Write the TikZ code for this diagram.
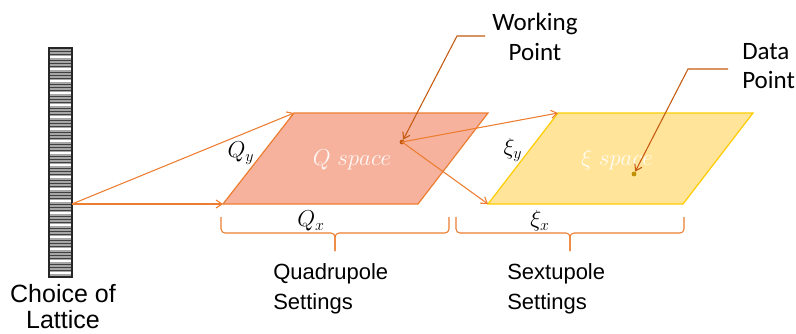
\documentclass[tikz,border=0pt]{standalone}
\usepackage{fontspec}
\setmainfont{Liberation Sans}
\newfontfamily\calib{Carlito}
\usetikzlibrary{arrows.meta}
\definecolor{org}{RGB}{237,125,49}
\definecolor{brn}{RGB}{197,90,17}
\definecolor{qfill}{RGB}{246,178,156}
\definecolor{xfill}{RGB}{255,228,153}
\definecolor{xline}{RGB}{255,204,0}
\definecolor{dpt}{RGB}{191,144,0}
\begin{document}
\begin{tikzpicture}[x=0.75pt,y=-0.75pt,
  conn/.style={org, line width=0.8pt, -{Straight Barb[length=4.5pt,width=6pt]}},
  leader/.style={brn, line width=0.8pt, -{Straight Barb[length=4.5pt,width=6pt]}},
  bracestyle/.style={org, line width=0.8pt, rounded corners=3pt},
  lbl/.style={font=\fontsize{16.5}{20}\selectfont, inner sep=0pt},
  clbl/.style={font=\calib\fontsize{18.75}{22}\selectfont, align=left, inner sep=0pt},
  mlbl/.style={font=\fontsize{18.5}{20}\selectfont, inner sep=0pt},
  spacelbl/.style={text=white, text opacity=0.9, font=\fontsize{18}{20}\selectfont, inner sep=0pt},
  dot/.style={circle, inner sep=0pt, minimum size=3.6pt}]
\useasboundingbox (0,0) rectangle (796,333);

% lattice
\fill[gray!50!black] (49,48) rectangle (72,277);
\foreach \y in {50,53,...,276} \draw[gray!70, line width=0.9pt] (50,\y) -- (71,\y);
\foreach \y in {57,69,...,276} \draw[white, line width=0.8pt] (50,\y) -- (71,\y);
\draw[gray!30!black, line width=1pt] (49,48) rectangle (72,277);
\coordinate (lat) at (72,204);
\node[font=\fontsize{18.75}{20}\selectfont, inner sep=0pt, anchor=base] (ch1) at (63,302) {Choice of};
\node[font=\fontsize{18.75}{20}\selectfont, inner sep=0pt, anchor=base] (ch2) at (63,328) {Lattice};

% Q space
\coordinate (q1) at (223,204);
\coordinate (q2) at (418,204);
\coordinate (q3) at (488,113);
\coordinate (q4) at (294,113);
\draw[org, fill=qfill, line width=0.9pt] (q1) -- (q2) -- (q3) -- (q4) -- cycle;
\node[spacelbl] (qsp) at (352,160) {$Q\ space$};

% xi space
\coordinate (x1) at (488,204);
\coordinate (x2) at (683,204);
\coordinate (x3) at (753,113);
\coordinate (x4) at (558,113);
\draw[xline, fill=xfill, line width=0.9pt] (x1) -- (x2) -- (x3) -- (x4) -- cycle;
\node[spacelbl] (xsp) at (617,160) {$\xi\ space$};

% axis labels
\node[mlbl] (qy) at (241,153) {$Q_y$};
\node[mlbl] (qx) at (311,221) {$Q_x$};
\node[mlbl] (xy) at (513,150) {$\xi_y$};
\node[mlbl] (xx) at (540,221) {$\xi_x$};

% points
\node[dot, fill=brn] (wp) at (402,142) {};
\node[dot, fill=dpt] (dp) at (634,174) {};

% connectors
\draw[conn] (lat) -- (q4);
\draw[conn] (lat) -- (q1);
\draw[conn] (wp.center) -- (x4);
\draw[conn] (wp.center) -- (x1);

% callouts
\node[clbl, align=center] (wlab) at (535,37) {Working\\Point};
\coordinate (wl1) at (485,36);
\coordinate (wl2) at (457,36);
\draw[leader] (wl1) -- (wl2) -- (wp);
\node[clbl, align=left, anchor=west] (dlab) at (742,66) {Data\\Point};
\coordinate (dl1) at (728,69);
\coordinate (dl2) at (688,69);
\draw[leader] (dl1) -- (dl2) -- (dp);

% braces
\coordinate (b1l) at (221,217);
\coordinate (b1r) at (449,217);
\coordinate (b1t) at (335,251);
\draw[bracestyle] (b1l) -- (221,233) -- (335,233) -- (b1t);
\draw[bracestyle] (b1r) -- (449,233) -- (335,233) -- (b1t);
\coordinate (b2l) at (456,217);
\coordinate (b2r) at (684,217);
\coordinate (b2t) at (570,251);
\draw[bracestyle] (b2l) -- (456,233) -- (570,233) -- (b2t);
\draw[bracestyle] (b2r) -- (684,233) -- (570,233) -- (b2t);

% settings labels
\node[lbl, anchor=base west] (qs1) at (273,279) {Quadrupole};
\node[lbl, anchor=base west] (qs2) at (273,309) {Settings};
\node[lbl, anchor=base west] (ss1) at (507,279) {Sextupole};
\node[lbl, anchor=base west] (ss2) at (507,309) {Settings};
\end{tikzpicture}
\end{document}
